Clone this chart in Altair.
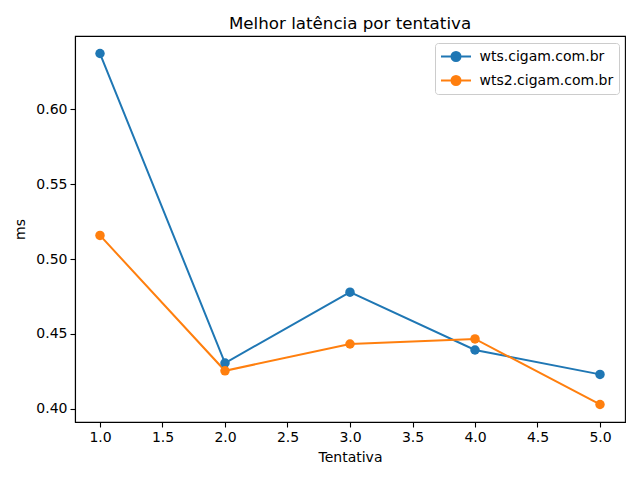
import altair as alt
import pandas as pd

tentativas = [1, 2, 3, 4, 5]
wts = [0.6373, 0.4306, 0.4779, 0.4393, 0.4230]
wts2 = [0.5158, 0.4254, 0.4433, 0.4467, 0.4029]
series = ["wts.cigam.com.br", "wts2.cigam.com.br"]
colors = ["#1f77b4", "#ff7f0e"]
x_ticks = [1.0, 1.5, 2.0, 2.5, 3.0, 3.5, 4.0, 4.5, 5.0]
y_ticks = [0.40, 0.45, 0.50, 0.55, 0.60]

rows = []
for name, vals in zip(series, [wts, wts2]):
    for t, v in zip(tentativas, vals):
        rows.append({"Tentativa": t, "ms": v, "host": name})
df = pd.DataFrame(rows)

FONT = "DejaVu Sans"
sym = "M-2,0H2M-0.6,0A0.6,0.6 0 1,1 0.6,0A0.6,0.6 0 1,1 -0.6,0Z"

x = alt.X("Tentativa:Q", scale=alt.Scale(domain=[0.8, 5.2], nice=False, zero=False),
          axis=alt.Axis(values=x_ticks, format=".1f", title="Tentativa", grid=False,
                        tickSize=5, labelPadding=3, titlePadding=6))
y = alt.Y("ms:Q", scale=alt.Scale(domain=[0.3912, 0.6490], nice=False, zero=False),
          axis=alt.Axis(values=y_ticks, format=".2f", title="ms", grid=False,
                        tickSize=5, labelPadding=3, titlePadding=8))
color = alt.Color("host:N", scale=alt.Scale(domain=series, range=colors),
                  legend=alt.Legend(title=None, orient="none", legendX=360, legendY=7,
                                    symbolType=sym, symbolSize=225, symbolStrokeWidth=2,
                                    symbolOffset=7.5,
                                    labelFontSize=14, labelFont=FONT, labelColor="black",
                                    fillColor="white", strokeColor="#cccccc", cornerRadius=3,
                                    padding=5, rowPadding=7, labelOffset=15))

base = alt.Chart(df)
line = base.mark_line(strokeWidth=2).encode(x=x, y=y, color=color)
pts = base.mark_point(filled=True, size=90, opacity=1).encode(x=x, y=y, color=color)

chart = alt.layer(line, pts).properties(
    width=550, height=386,
    title=alt.TitleParams("Melhor latência por tentativa", fontSize=16.7, font=FONT,
                          fontWeight="normal", color="black", anchor="middle", offset=3),
    autosize=alt.AutoSizeParams(type="none"),
    padding={"left": 67, "top": 28, "right": 7, "bottom": 50},
).configure_view(stroke="black", strokeWidth=1.1).configure_axis(
    labelFont=FONT, titleFont=FONT, labelFontSize=14, titleFontSize=14,
    titleFontWeight="normal", labelColor="black", titleColor="black",
    domainColor="black", tickColor="black", domainWidth=1.1, tickWidth=1.1
)

chart.save("out.html", embed_options={"renderer": "svg", "actions": False})
